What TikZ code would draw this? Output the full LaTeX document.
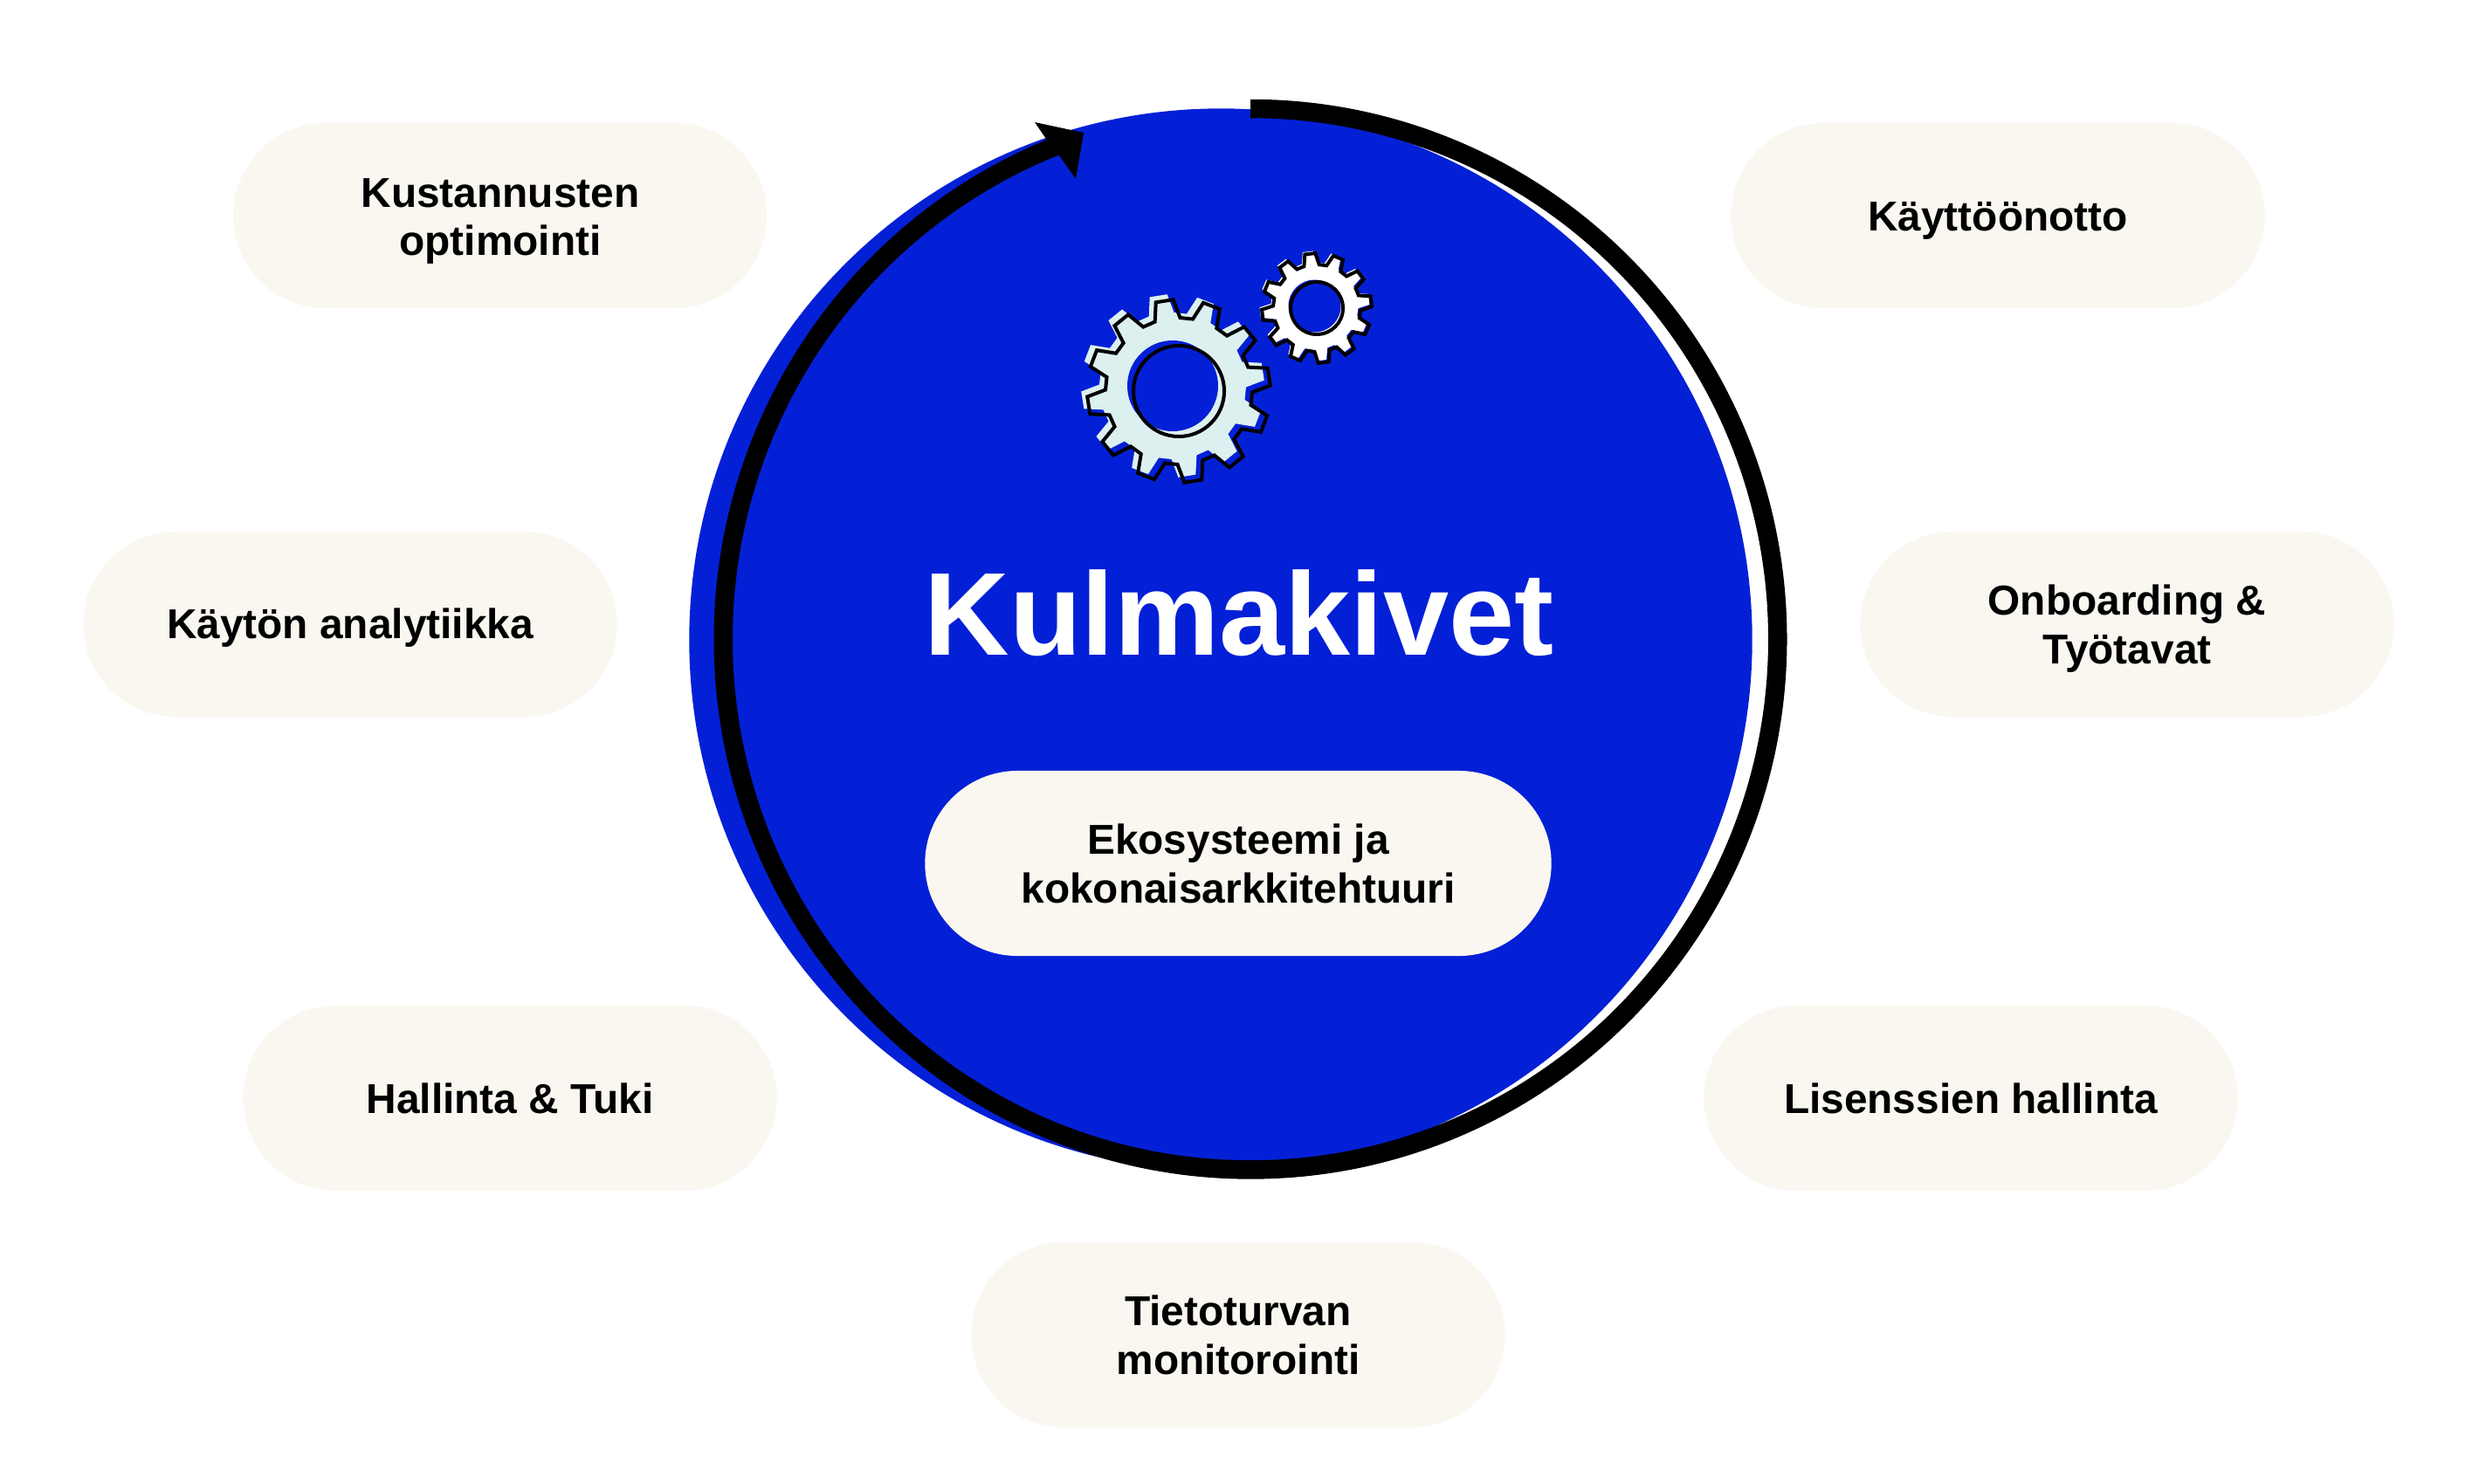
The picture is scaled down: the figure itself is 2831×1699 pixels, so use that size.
\documentclass[tikz,border=0pt]{standalone}
\usepackage{fontspec}
\setmainfont{Liberation Sans}
\definecolor{kiviblue}{HTML}{0420D6}
\definecolor{pillcream}{HTML}{FAF7F1}
\definecolor{gearmint}{HTML}{DCF0EF}
\tikzset{
    pillbox/.style={draw=none, fill=pillcream, rounded corners=1.06cm, minimum width=6.11cm, minimum height=2.12cm, inner sep=0pt},
    pilltext/.style={inner sep=0pt, align=center, font=\bfseries\fontsize{13.6}{15.9}\selectfont},
    gearline/.style={draw=black, line width=0.04cm, miter limit=6}
}
\newcommand{\gearpath}[4]{%
    ({#4-10}:#3) \foreach \a in {0,30,...,330} {
        -- ({\a+#4-10}:#3) -- ({\a+#4-5.5}:#2) -- ({\a+#4+5.5}:#2) -- ({\a+#4+10}:#3)
    } -- cycle
}
\begin{document}
\begin{tikzpicture}[x=0.01cm,y=0.01cm]
                \useasboundingbox (0,0) rectangle (2831,-1699);
                \fill[white] (0,0) rectangle (2831,-1699);

                \fill[kiviblue] (1398,-733) circle (608.7);
                \draw[black, line width=0.215cm] (1432,-124.5) arc (90:-250:603.75 and 607.7);
                \fill[black] (1241,-152) -- (1185,-140) -- (1198,-159) -- (1213,-178) -- (1232,-205) -- cycle;

                \fill[gearmint, shift={(1343,-442)}] \gearpath{0}{105}{84}{9};
                \fill[kiviblue] (1343,-442) circle (52);
                \draw[gearline, shift={(1350,-448)}] \gearpath{0}{105}{84}{9};
                \draw[gearline] (1350,-448) circle (52);

                \fill[white, shift={(1505.5,-350.5)}] \gearpath{0}{63}{50}{7};
                \fill[kiviblue] (1505.5,-350.5) circle (30);
                \draw[gearline, shift={(1508,-353)}] \gearpath{0}{63}{50}{7};
                \draw[gearline] (1508,-353) circle (30);

                \node[text=white, inner sep=0pt, anchor=base, font=\bfseries\fontsize{38.4}{40}\selectfont] (title) at (1419,-750.7) {Kulmakivet};

                \node[pillbox, minimum width=7.17cm] (ekosysteemi) at (1418,-989) {};
                \node[pilltext] (ekosysteemi text) at (1418,-989) {Ekosysteemi ja\\kokonaisarkkitehtuuri};

                \node[pillbox] (kustannukset) at (572.6,-247) {};
                \node[pilltext] (kustannukset text) at (573,-253.5) {Kustannusten\\optimointi};
                \node[pillbox] (kayttoonotto) at (2288,-247) {};
                \node[pilltext] (kayttoonotto text) at (2288,-253) {Käyttöönotto};
                \node[pillbox] (onboarding) at (2436,-715) {};
                \node[pilltext] (onboarding text) at (2436,-720.5) {Onboarding \&\\Työtavat};
                \node[pillbox] (analytiikka) at (401,-715) {};
                \node[pilltext] (analytiikka text) at (401,-719) {Käytön analytiikka};
                \node[pillbox] (hallinta) at (584,-1258) {};
                \node[pilltext] (hallinta text) at (584,-1258) {Hallinta \& Tuki};
                \node[pillbox] (lisenssit) at (2257,-1258) {};
                \node[pilltext] (lisenssit text) at (2257,-1258) {Lisenssien hallinta};
                \node[pillbox] (tietoturva) at (1418,-1529) {};
                \node[pilltext] (tietoturva text) at (1418,-1529) {Tietoturvan\\monitorointi};
\end{tikzpicture}
\end{document}
